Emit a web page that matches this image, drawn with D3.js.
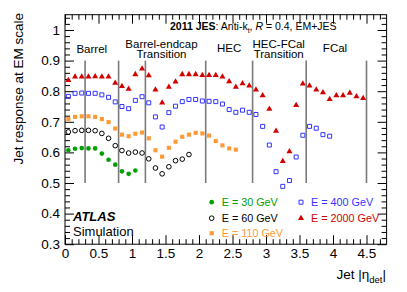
<!DOCTYPE html>
<html>
<head>
<meta charset="utf-8">
<script src="https://d3js.org/d3.v7.min.js"></script>
<style>
  body { margin: 0; background: #fff; }
  svg { font-family: "Liberation Sans", Arial, sans-serif; }
</style>
</head>
<body>
<svg class="chart" width="407" height="292"></svg>
<script>
// bin centres in jet |eta_det|
let etaCentres = [0.05, 0.15, 0.25, 0.35, 0.45, 0.55, 0.65, 0.75, 0.85, 0.95,
  1.05, 1.15, 1.25, 1.35, 1.45, 1.55, 1.65, 1.75, 1.85, 1.95,
  2.05, 2.15, 2.25, 2.35, 2.45, 2.55, 2.65, 2.75, 2.85, 2.95,
  3.05, 3.15, 3.25, 3.35, 3.45, 3.55, 3.65, 3.75, 3.85, 3.95,
  4.05, 4.15, 4.25, 4.35, 4.45]

// response per energy, starting at the first bin
let resp30 = [0.607, 0.612, 0.614, 0.613, 0.613, 0.596, 0.576, 0.560, 0.538, 0.530, 0.541]
let resp60 = [0.667, 0.671, 0.672, 0.672, 0.671, 0.662, 0.646, 0.622, 0.606, 0.598,
  0.601, 0.598, 0.579, 0.549, 0.530, 0.553, 0.573, 0.578, 0.593]
let resp110 = [0.709, 0.716, 0.718, 0.718, 0.716, 0.709, 0.699, 0.678, 0.658, 0.653,
  0.661, 0.665, 0.646, 0.607, 0.586, 0.615, 0.635, 0.651, 0.658, 0.664,
  0.662, 0.655, 0.637, 0.623, 0.613, 0.609]
let resp400 = [0.783, 0.793, 0.794, 0.793, 0.793, 0.788, 0.780, 0.765, 0.750, 0.743,
  0.770, 0.782, 0.762, 0.716, 0.683, 0.730, 0.751, 0.766, 0.773, 0.773,
  0.768, 0.767, 0.766, 0.758, 0.740, 0.731, 0.738, 0.731, 0.724, 0.685,
  0.624, 0.537, 0.489, 0.508, 0.585, 0.656, 0.685, 0.679, 0.658, 0.653]
let resp2000 = [0.836, 0.847, 0.847, 0.847, 0.848, 0.847, 0.847, 0.827, 0.816, 0.807,
  0.855, 0.873, 0.851, 0.805, 0.762, 0.814, 0.831, 0.855, 0.855, 0.855,
  0.852, 0.852, 0.852, 0.847, 0.832, 0.814, 0.825, 0.818, 0.805, 0.786,
  0.742, 0.670, 0.571, 0.603, 0.754, 0.824, 0.818, 0.805, 0.796, 0.774,
  0.786, 0.786, 0.794, 0.783, 0.777]

let boundaries = [0.3, 0.8, 1.2, 2.1, 2.8, 3.6, 4.5]
let regionNames = [['Barrel'], ['Barrel-endcap', 'Transition'], ['HEC'], ['HEC-FCal', 'Transition'], ['FCal']]
let xTickLabels = [0, 0.5, 1, 1.5, 2, 2.5, 3, 3.5, 4, 4.5]
let yTickLabels = [0.3, 0.4, 0.5, 0.6, 0.7, 0.8, 0.9, 1]

let W = 407, H = 292
let marge = { top: 14.7, right: 20.4, bottom: 47.8, left: 65 }
let svg = d3.select('.chart')

let x = d3.scaleLinear().domain([0, 4.8]).range([marge.left, W - marge.right])
let y = d3.scaleLinear().domain([0.3, 1.05]).range([H - marge.bottom, marge.top])
let x0 = marge.left, x1 = W - marge.right, y0 = H - marge.bottom, y1 = marge.top

// ticks point inwards on all four sides (ROOT style)
let minorX = d3.range(0, 48).map(i => i / 10).filter(v => Math.round(v * 10) % 5 != 0)
let minorY = d3.range(15, 53).map(i => i / 50).filter(v => Math.round(v * 50) % 5 != 0)
let fmt = d3.format('~g')

function axisGroup(axis, tx, ty) {
  let g = svg.append('g').attr('transform', `translate(${tx},${ty})`).call(axis)
  g.select('.domain').remove()
  g.selectAll('line').attr('stroke', '#000')
  g.selectAll('text').attr('fill', '#000').style('font-size', '13.5px')
  return g
}
axisGroup(d3.axisBottom(x).tickValues(xTickLabels).tickSize(-9).tickPadding(4).tickFormat(fmt), 0, y0)
axisGroup(d3.axisBottom(x).tickValues(minorX).tickSize(-5).tickFormat(''), 0, y0)
axisGroup(d3.axisTop(x).tickValues(xTickLabels).tickSize(-9).tickFormat(''), 0, y1)
axisGroup(d3.axisTop(x).tickValues(minorX).tickSize(-5).tickFormat(''), 0, y1)
axisGroup(d3.axisLeft(y).tickValues(yTickLabels).tickSize(-9).tickPadding(5).tickFormat(fmt), x0, 0)
axisGroup(d3.axisLeft(y).tickValues(minorY).tickSize(-5).tickFormat(''), x0, 0)
axisGroup(d3.axisRight(y).tickValues(yTickLabels).tickSize(-9).tickFormat(''), x1, 0)
axisGroup(d3.axisRight(y).tickValues(minorY).tickSize(-5).tickFormat(''), x1, 0)

svg.append('rect')
  .attr('x', x0).attr('y', y1)
  .attr('width', x1 - x0).attr('height', y0 - y1)
  .attr('fill', 'none').attr('stroke', '#000').attr('stroke-width', 1)

// detector region boundaries
svg.selectAll('.bound')
  .data(boundaries)
  .enter()
  .append('line')
  .attr('x1', d => x(d)).attr('x2', d => x(d))
  .attr('y1', y(0.9)).attr('y2', y(0.5))
  .attr('stroke', '#7a7a7a').attr('stroke-width', 1.6)

// region names: centre eta and baseline of the first line
let regionPos = [[0.40, 52.5], [1.44, 47.5], [2.45, 52], [3.19, 47.5], [4.03, 52]]
regionNames.forEach((lines, i) => {
  let t = svg.append('text')
    .attr('x', x(regionPos[i][0]))
    .attr('y', regionPos[i][1])
    .attr('text-anchor', 'middle')
    .style('font-size', '11.5px')
  lines.forEach((s, j) => {
    t.append('tspan').attr('x', x(regionPos[i][0])).attr('dy', j == 0 ? 0 : 10.5).text(s)
  })
})

let series = [
  { label: 'E = 30 GeV', values: resp30, color: '#00a000', type: d3.symbolCircle, size: 17, open: false },
  { label: 'E = 60 GeV', values: resp60, color: '#000000', type: d3.symbolCircle, size: 17, open: true },
  { label: 'E = 110 GeV', values: resp110, color: '#ff9933', type: d3.symbolSquare, size: 17, open: false },
  { label: 'E = 400 GeV', values: resp400, color: '#3333ff', type: d3.symbolSquare, size: 16, open: true },
  { label: 'E = 2000 GeV', values: resp2000, color: '#d40000', type: d3.symbolTriangle, size: 16, open: false }
]

function styleMarker(sel, s) {
  sel.attr('d', d3.symbol().type(s.type).size(s.size)())
    .attr('fill', s.open ? 'none' : s.color)
    .attr('stroke', s.open ? s.color : 'none')
    .attr('stroke-width', 1)
}

series.forEach(s => {
  svg.append('g').selectAll('path')
    .data(s.values)
    .enter()
    .append('path')
    .attr('transform', (d, i) => `translate(${x(etaCentres[i])},${y(d)})`)
    .call(styleMarker, s)
})

// legend, two columns
let legendPos = [[211.7, 205.7], [211.7, 221.7], [211.7, 236.7], [301, 205.7], [301, 221.7]]
series.forEach((s, i) => {
  let p = legendPos[i]
  svg.append('path')
    .attr('transform', `translate(${p[0]},${p[1] - 3.5})`)
    .call(styleMarker, s)
  svg.append('text')
    .attr('x', p[0] + 10).attr('y', p[1])
    .attr('fill', s.color)
    .style('font-size', '10.8px')
    .text(s.label)
})

// header
let head = svg.append('text').attr('x', 170).attr('y', 30).style('font-size', '10.5px')
head.append('tspan').style('font-weight', 'bold').text('2011 JES')
head.append('tspan').text(': Anti-k')
head.append('tspan').attr('dy', 2.5).style('font-size', '7px').text('t')
head.append('tspan').attr('dy', -2.5).text(', ')
head.append('tspan').style('font-style', 'italic').text('R')
head.append('tspan').text(' = 0.4, EM+JES')

svg.append('text').attr('x', 73).attr('y', 221)
  .style('font-size', '13px').style('font-weight', 'bold').style('font-style', 'italic')
  .text('ATLAS')
svg.append('text').attr('x', 73).attr('y', 235.5)
  .style('font-size', '13px')
  .text('Simulation')

// axis titles
svg.append('text')
  .attr('transform', 'translate(23,13) rotate(-90)')
  .attr('text-anchor', 'end')
  .style('font-size', '13.5px')
  .text('Jet response at EM scale')

let xt = svg.append('text').attr('x', 386).attr('y', 278.5)
  .attr('text-anchor', 'end').style('font-size', '13.5px')
xt.append('tspan').text('Jet |η')
xt.append('tspan').attr('dy', 4.5).style('font-size', '9.5px').text('det')
xt.append('tspan').attr('dy', -4.5).text('|')
</script>
</body>
</html>
